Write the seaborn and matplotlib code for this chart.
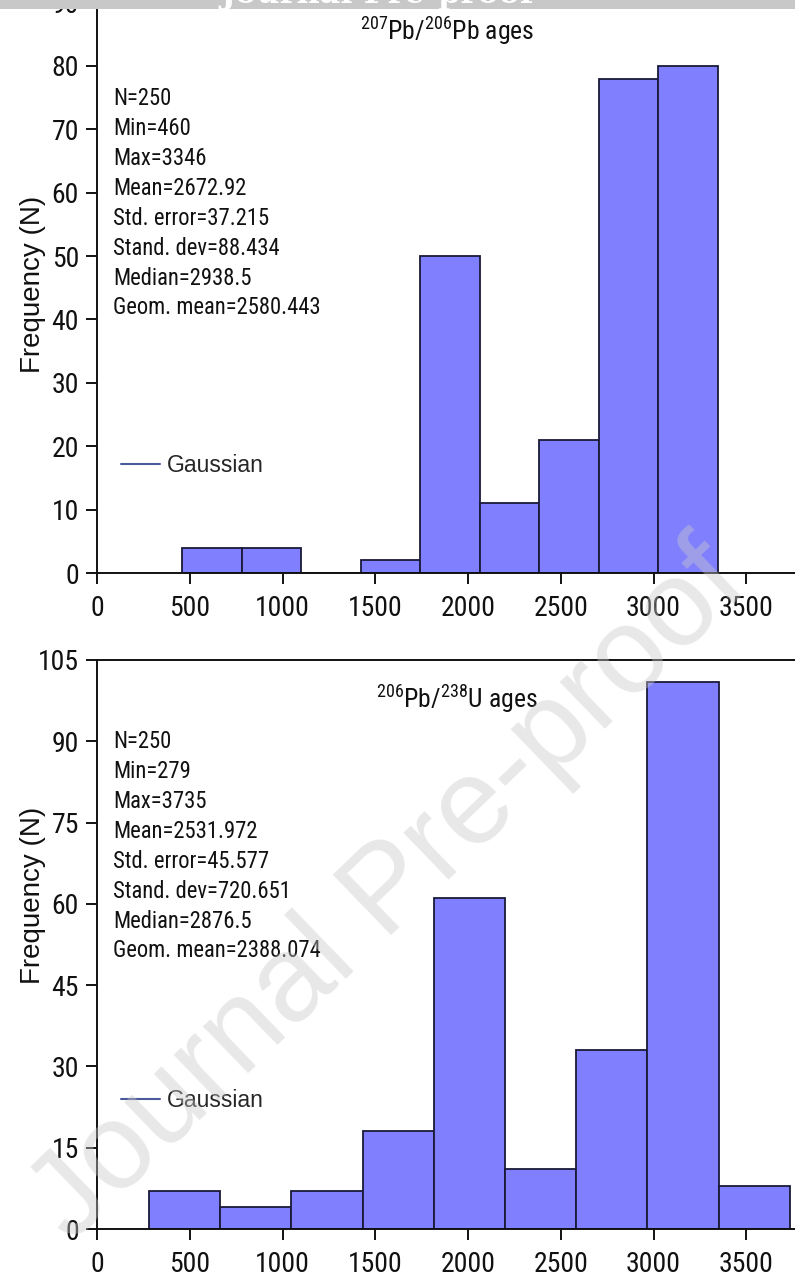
import numpy as np
import pandas as pd
import seaborn as sns
import matplotlib
matplotlib.use("Agg")
import matplotlib.pyplot as plt
from matplotlib.lines import Line2D
from matplotlib.patches import Rectangle
from matplotlib import font_manager as fm

# ---------------- data ----------------
edges_pb = [460, 780.7, 1101.3, 1422, 1742.7, 2063.3, 2384, 2704.7, 3025.3, 3346]
counts_pb = [4, 4, 0, 2, 50, 11, 21, 78, 80]
stats_pb = ["N=250", "Min=460", "Max=3346", "Mean=2672.92", "Std. error=37.215",
            "Stand. dev=88.434", "Median=2938.5", "Geom. mean=2580.443"]
title_pb = r"$^{207}$Pb/$^{206}$Pb ages"
yticks_pb = [0, 10, 20, 30, 40, 50, 60, 70, 80, 90]

edges_u = [279, 663, 1047, 1431, 1815, 2199, 2583, 2967, 3351, 3735]
counts_u = [7, 4, 7, 18, 61, 11, 33, 101, 8]
stats_u = ["N=250", "Min=279", "Max=3735", "Mean=2531.972", "Std. error=45.577",
           "Stand. dev=720.651", "Median=2876.5", "Geom. mean=2388.074"]
title_u = r"$^{206}$Pb/$^{238}$U ages"
yticks_u = [0, 15, 30, 45, 60, 75, 90, 105]

xticks = [0, 500, 1000, 1500, 2000, 2500, 3000, 3500]

# ---------------- style ----------------
sns.set_theme(style="ticks")
names = {f.name for f in fm.fontManager.ttflist}
regular = "Liberation Sans" if "Liberation Sans" in names else "DejaVu Sans"
narrow = None
for cand in ["Liberation Sans Narrow", "Arial Narrow", "Roboto Condensed",
             "Open Sans Condensed"]:
    if cand in names:
        narrow = cand
        break
if narrow is None:
    narrow = regular
    TICK, STAT, TITLE, LS = 18.5, 15, 18.5, 1.51
else:
    TICK, STAT, TITLE, LS = 20, 16.3, 18.5, 1.385

plt.rcParams["font.family"] = [regular, "DejaVu Sans"]
plt.rcParams["mathtext.fontset"] = "custom"
plt.rcParams["mathtext.rm"] = narrow
plt.rcParams["mathtext.it"] = narrow
plt.rcParams["mathtext.bf"] = narrow

BAR = "#8080ff"
EDGE = "#1a1a38"
INK = "#111111"

fig = plt.figure(figsize=(7.95, 12.78), dpi=100)
H = 1278.0
left = 97 / 795
ax1 = fig.add_axes([left, (H - 573) / H, 1 - left, 570.5 / H])
ax2 = fig.add_axes([left, (H - 1229) / H, 1 - left, 569 / H])

panels = [
    (ax1, edges_pb, counts_pb, stats_pb, title_pb, yticks_pb,
     (0.502, 0.950), 0.852, 0.189, 0.506),
    (ax2, edges_u, counts_u, stats_u, title_u, yticks_u,
     (0.515, 0.931), 0.877, 0.225, 0.587),
]

for ax, edges, counts, stats, title, yt, tpos, sy, ly, laby in panels:
    centers = [(edges[i] + edges[i + 1]) / 2 for i in range(len(counts))]
    df = pd.DataFrame({"age": centers, "n": counts})
    sns.histplot(data=df, x="age", weights="n", bins=edges, ax=ax,
                 color=BAR, edgecolor=EDGE, linewidth=1.3, alpha=1.0)
    ax.set_xlim(0, 3762)
    ax.set_ylim(0, yt[-1])
    ax.set_xticks(xticks)
    ax.set_yticks(yt)
    ax.set_xlabel("")
    ax.set_ylabel("Frequency (N)", fontsize=20, family=regular, color=INK)
    ax.yaxis.set_label_coords(-0.073, laby)
    for s in ["left", "bottom", "top"]:
        ax.spines[s].set_linewidth(1.4)
        ax.spines[s].set_color(INK)
    ax.spines["right"].set_visible(False)
    ax.tick_params(axis="both", direction="out", length=8, width=1.4, color=INK)
    ax.tick_params(axis="x", pad=8)
    ax.tick_params(axis="y", pad=5)
    for lab in ax.get_xticklabels() + ax.get_yticklabels():
        lab.set_family(narrow)
        lab.set_fontsize(TICK)
        lab.set_color(INK)
    ax.text(tpos[0], tpos[1], title, transform=ax.transAxes, ha="center",
            va="center", fontsize=TITLE, family=narrow, color=INK)
    ax.text(0.023, sy, "\n".join(stats), transform=ax.transAxes, ha="left",
            va="top", fontsize=STAT, family=narrow, linespacing=LS, color=INK)
    h = Line2D([], [], color="#4a5a9a", lw=1.5, label="Gaussian")
    ax.legend(handles=[h], loc="center left", bbox_to_anchor=(0.005, ly),
              frameon=False, handlelength=1.7, handletextpad=0.3,
              prop={"family": regular, "size": 16.5})

# watermark
fig.text(0.49, 1 - 893 / H, "Journal Pre-proof", rotation=44, fontsize=88,
         family=regular, color="#c8c8c8", alpha=0.42, ha="center", va="center",
         zorder=20)

# top grey band
fig.patches.append(Rectangle((0, 1 - 9 / H), 1, 9 / H, transform=fig.transFigure,
                             facecolor="#c8c8c8", edgecolor="none", zorder=30))
fig.text(0.475, 1 - 3 / H, "Journal Pre-proof", color="white", fontsize=23,
         fontweight="bold", family="DejaVu Serif", ha="center", va="baseline",
         zorder=31)

fig.savefig("out.png", dpi=100)
